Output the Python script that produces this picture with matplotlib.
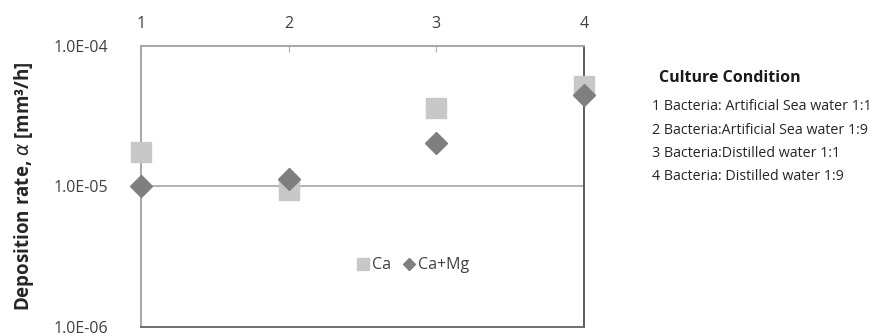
import matplotlib.pyplot as plt
from matplotlib.ticker import FixedLocator, NullLocator

plt.rcParams['font.family'] = ['Open Sans', 'DejaVu Sans']

conditions = [1, 2, 3, 4]
ca = [1.77e-5, 9.5e-6, 3.6e-5, 5.2e-5]
ca_mg = [1.0e-5, 1.13e-5, 2.05e-5, 4.5e-5]
y_ticks = [1e-6, 1e-5, 1e-4]
y_tick_labels = ['1.0E-06', '1.0E-05', '1.0E-04']
legend_title = 'Culture Condition'
condition_labels = ['1 Bacteria: Artificial Sea water 1:1',
                    '2 Bacteria:Artificial Sea water 1:9',
                    '3 Bacteria:Distilled water 1:1',
                    '4 Bacteria: Distilled water 1:9']

fig = plt.figure(figsize=(8.77, 3.36), dpi=100)
ax = fig.add_axes([0.1608, 0.027, 0.505, 0.836])

ax.plot(conditions, ca, linestyle='none', marker='s', markersize=15,
        color='#c8c8c8', label='Ca', clip_on=False, zorder=3)
ax.plot(conditions, ca_mg, linestyle='none', marker='D', markersize=11,
        color='#7f7f7f', label='Ca+Mg', clip_on=False, zorder=4)

ax.set_yscale('log')
ax.set_ylim(1e-6, 1e-4)
ax.set_xlim(1, 4)
ax.yaxis.set_major_locator(FixedLocator(y_ticks))
ax.yaxis.set_minor_locator(NullLocator())
ax.set_yticks(y_ticks)
ax.set_yticklabels(y_tick_labels)
ax.tick_params(axis='y', length=0, labelsize=11.5, colors='#404040', pad=24)

ax.xaxis.tick_top()
ax.set_xticks(conditions)
ax.set_xticklabels([str(c) for c in conditions])
ax.tick_params(axis='x', direction='in', length=4, color='#b0b0b0',
               labelsize=11.5, labelcolor='#404040', pad=10)

ax.axhline(1e-5, color='#a6a6a6', linewidth=1.2, zorder=1)
ax.spines['left'].set_color('#a6a6a6')
ax.spines['top'].set_color('#a6a6a6')
ax.spines['bottom'].set_color('#6e6e6e')
ax.spines['right'].set_color('#5a5a5a')
for s in ax.spines.values():
    s.set_linewidth(1.4)

ax.set_ylabel(r'Deposition rate, $\alpha$ [mm³/h]', fontsize=13.5,
              fontweight='bold', color='#262626', labelpad=12)

ax.legend(loc='center', bbox_to_anchor=(0.61, 0.22), ncol=2, frameon=False,
          fontsize=11.5, handletextpad=0.0, columnspacing=0.5, handlelength=1.2,
          markerscale=0.55, labelcolor='#404040')

fig.text(0.751, 0.767, legend_title, fontsize=11.5, fontweight='bold',
         color='#1a1a1a', va='center')
for i, lab in enumerate(condition_labels):
    fig.text(0.744, 0.682 - i * 0.069, lab, fontsize=10.3, color='#262626',
             va='center')

fig.savefig('out.png', dpi=100)
